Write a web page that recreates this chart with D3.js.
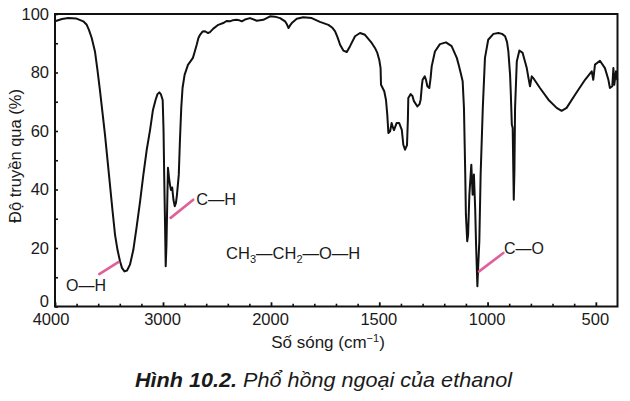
<!DOCTYPE html>
<html>
<head>
<meta charset="utf-8">
<script src="https://cdn.jsdelivr.net/npm/d3@7"></script>
<style>
  html, body { margin: 0; padding: 0; background: #fff; }
  svg { display: block; font-family: "Liberation Sans", Arial, sans-serif; }
</style>
</head>
<body>
<div id="chart"></div>
<script>
// số sóng (cm-1)
const wavenumber = [
  4000, 3935, 3877, 3806, 3738, 3706, 3685, 3660, 3630, 3607,
  3583, 3560, 3537, 3514, 3491, 3468, 3444, 3421, 3398, 3380,
  3357, 3333, 3306, 3275, 3244, 3213, 3182, 3151, 3120, 3093,
  3069, 3051, 3034, 3019, 3003, 2995, 2989, 2981, 2975, 2968,
  2961, 2954, 2944, 2935, 2926, 2915, 2903, 2891, 2880, 2871,
  2854, 2843, 2831, 2819, 2800, 2769, 2744, 2723, 2707, 2688,
  2672, 2657, 2634, 2611, 2583, 2565, 2534, 2488, 2442, 2412,
  2380, 2352, 2318, 2296, 2271, 2241, 2194, 2132, 2071, 2009,
  1982, 1958, 1935, 1926, 1919, 1912, 1904, 1881, 1851, 1812,
  1774, 1735, 1718, 1704, 1693, 1681, 1666, 1650, 1635, 1612,
  1589, 1566, 1535, 1520, 1509, 1500, 1494, 1492, 1477, 1469,
  1463, 1458, 1450, 1443, 1437, 1432, 1420, 1408, 1396, 1389,
  1381, 1372, 1368, 1366, 1355, 1347, 1340, 1324, 1314, 1309,
  1303, 1300, 1290, 1284, 1278, 1269, 1263, 1258, 1243, 1220,
  1192, 1166, 1142, 1132, 1124, 1115, 1109, 1103, 1100, 1094,
  1090, 1084, 1075, 1069, 1063, 1057, 1053, 1047, 1043, 1038,
  1032, 1022, 1012, 997, 973, 950, 933, 919, 910, 904,
  896, 893, 888, 884, 881, 879, 876, 873, 865, 853,
  838, 819, 811, 804, 796, 789, 758, 719, 681, 658,
  635, 596, 550, 519, 512, 504, 481, 458, 442, 435,
  424, 419, 415, 407, 401
];

// độ truyền qua (%)
const transmittance = [
  97.5, 98.3, 98.6, 98.5, 97.5, 96.3, 94.5, 91.8, 87.2, 80.9,
  73.6, 66.2, 58.7, 50.1, 41.6, 33, 24.5, 19.3, 15.5, 13.2,
  12, 12.3, 14.3, 19.3, 27.2, 35.7, 45, 53.5, 60.3, 67.2,
  70.6, 72.6, 73.2, 72.5, 70.6, 60.3, 45, 27.9, 13.8, 21,
  34.7, 47.4, 43.9, 41.5, 39.8, 40.7, 36.4, 34.3, 35.4, 38.1,
  45, 57, 67.9, 74.7, 79.2, 82.6, 83.9, 85, 87, 89.5,
  91.8, 92.9, 94, 94.1, 93.5, 93.8, 95, 96.3, 96.9, 97.6,
  97.5, 97.9, 98, 97.9, 97.5, 98.1, 98.6, 97.7, 98, 99.2,
  99.1, 98.6, 97.5, 96.4, 95.2, 96.1, 96.9, 98.4, 98.9, 98.6,
  97.3, 96.3, 95.4, 94.1, 92.1, 89.5, 87.5, 87, 89, 92.4,
  93.5, 92.9, 90.1, 88.4, 86.7, 84.3, 81.5, 75.8, 73.6, 70.6,
  65.5, 59.3, 59.9, 62.7, 61.2, 60.3, 62.7, 62.7, 60.4, 55.3,
  53.6, 55.2, 63.8, 71.3, 72.6, 72, 70.2, 68.4, 69.2, 70.7,
  75.7, 77.5, 78.7, 77.4, 75.3, 74.7, 78.1, 82.1, 87.2, 89.7,
  90.3, 89, 85, 82.2, 79.8, 77, 67.9, 45.1, 31.4, 22.3,
  24.4, 38.2, 48.5, 38.2, 45.1, 33, 21, 6.9, 14.2, 22.3,
  45.1, 67.9, 85, 91.2, 93.2, 93.5, 93.2, 92.4, 90.4, 87.2,
  79.2, 73.6, 62.2, 61, 46.2, 36.5, 46.3, 67.9, 83.8, 87.5,
  86.7, 81.5, 78.1, 75.3, 78.7, 78.1, 74.7, 70.7, 67.9, 66.9,
  67.9, 72.4, 77.5, 80.4, 77.5, 82.7, 84, 81.5, 77.5, 74.7,
  75.3, 81.5, 75.8, 80.4, 77.4
];

const xTickLabels = [4000, 3000, 2000, 1500, 1000, 500];
const yTickLabels = [0, 20, 40, 60, 80, 100];

// nhãn liên kết
const bondNames = ["O—H", "C—H", "C—O"];
const bondWavenumber = [3898, 2693, 924];
const bondPercent = [5.4, 34.8, 17.9];
// đoạn chỉ màu hồng: [wn1, T1, wn2, T2]
const pointers = [
  [3590, 11.1, 3414, 15.2],
  [2929, 30.3, 2720, 36.5],
  [1039, 12, 927, 18.3]
];

let width = 630;
let height = 401;
let margin = { top: 14, right: 12.5, bottom: 94.5, left: 55 };
let plotW = width - margin.left - margin.right;
let plotH = height - margin.top - margin.bottom;

let color = {
  text: '#1a1a1a',
  line: '#111',
  pink: '#e0609c'
};

const data = wavenumber.map((w, i) => ({ w: w, t: transmittance[i] }));

// thang số sóng đổi tỉ lệ ở 2000 cm-1
let x = d3.scaleLinear()
  .domain([4000, 2000, 400])
  .range([margin.left, margin.left + 216, width - margin.right]);

let y = d3.scaleLinear()
  .domain([0, 100])
  .range([height - margin.bottom, margin.top]);

const svg = d3.select("#chart").append("svg")
  .attr("width", width)
  .attr("height", height);

svg.append("rect")
  .attr("width", width).attr("height", height)
  .attr("fill", "#fff");

// trục x: vạch phụ
const xMinor = d3.range(3800, 2000, -200).concat(d3.range(1900, 400, -100))
  .filter(v => !xTickLabels.includes(v));

svg.append("g")
  .attr("transform", `translate(0,${y(0)})`)
  .call(d3.axisBottom(x).tickValues(xMinor).tickSize(-2.8).tickFormat(""))
  .call(g => g.select(".domain").remove())
  .call(g => g.selectAll("line").attr("stroke", color.line).attr("stroke-width", 1.6));

const gx = svg.append("g")
  .attr("transform", `translate(0,${y(0)})`)
  .call(d3.axisBottom(x).tickValues(xTickLabels).tickSize(-4.2).tickPadding(7)
    .tickFormat(d3.format("d")))
  .attr("font-size", 16.5)
  .attr("font-family", null)
  .call(g => g.select(".domain").remove())
  .call(g => g.selectAll("line").attr("stroke", color.line).attr("stroke-width", 1.8));

gx.selectAll("text")
  .attr("fill", color.text)
  .attr("x", d => d === 4000 ? -4.5 : -1);

// trục y
const gy = svg.append("g")
  .attr("transform", `translate(${margin.left},0)`)
  .call(d3.axisLeft(y).tickValues(d3.range(0, 101, 10)).tickSize(-3).tickPadding(6)
    .tickFormat(d => yTickLabels.includes(d) ? d : ""))
  .attr("font-size", 16.5)
  .attr("font-family", null)
  .call(g => g.select(".domain").remove())
  .call(g => g.selectAll("line").attr("stroke", color.line).attr("stroke-width", 1.6))
  .call(g => g.selectAll("text").attr("fill", color.text));

gy.selectAll("text")
  .attr("y", d => d === 0 ? -5.5 : 0);

// đường phổ
let line = d3.line()
  .x(d => x(d.w))
  .y(d => y(d.t));

svg.append("path")
  .datum(data)
  .attr("d", line)
  .attr("fill", "none")
  .attr("stroke", color.line)
  .attr("stroke-width", 2)
  .attr("stroke-linejoin", "round");

// khung
svg.append("rect")
  .attr("x", margin.left)
  .attr("y", margin.top)
  .attr("width", plotW)
  .attr("height", plotH)
  .attr("fill", "none")
  .attr("stroke", color.line)
  .attr("stroke-width", 2);

// đoạn chỉ màu hồng
svg.append("g")
  .selectAll("line")
  .data(pointers)
  .enter().append("line")
  .attr("x1", d => x(d[0]))
  .attr("y1", d => y(d[1]))
  .attr("x2", d => x(d[2]))
  .attr("y2", d => y(d[3]))
  .attr("stroke", color.pink)
  .attr("stroke-width", 2.6)
  .attr("stroke-linecap", "round");

// nhãn liên kết
svg.append("g")
  .selectAll("text")
  .data(bondNames)
  .enter().append("text")
  .attr("x", (d, i) => x(bondWavenumber[i]))
  .attr("y", (d, i) => y(bondPercent[i]))
  .attr("font-size", 16.5)
  .attr("fill", color.text)
  .attr("textLength", 40)
  .attr("lengthAdjust", "spacingAndGlyphs")
  .text(d => d);

// công thức CH3–CH2–O–H
const formula = svg.append("text")
  .attr("x", x(2416))
  .attr("y", y(16.1))
  .attr("font-size", 16.5)
  .attr("fill", color.text);
formula.append("tspan").text("CH");
formula.append("tspan").attr("font-size", 11).attr("dy", 4).text("3");
formula.append("tspan").attr("dy", -4).text("—CH");
formula.append("tspan").attr("font-size", 11).attr("dy", 4).text("2");
formula.append("tspan").attr("dy", -4).text("—O—H");

// tiêu đề trục
svg.append("text")
  .attr("transform", "translate(20.7,156) rotate(-90)")
  .attr("text-anchor", "middle")
  .attr("font-size", 16.5)
  .attr("fill", color.text)
  .text("Độ truyền qua (%)");

const xt = svg.append("text")
  .attr("x", 328)
  .attr("y", 348)
  .attr("text-anchor", "middle")
  .attr("font-size", 17)
  .attr("fill", color.text);
xt.append("tspan").text("Số sóng (cm");
xt.append("tspan").attr("font-size", 11).attr("dy", -6).text("−1");
xt.append("tspan").attr("dy", 6).text(")");

// chú thích hình
const cap = svg.append("text")
  .attr("x", 135)
  .attr("y", 386.5)
  .attr("font-size", 21)
  .attr("font-style", "italic")
  .attr("fill", color.text)
  .attr("textLength", 377)
  .attr("lengthAdjust", "spacingAndGlyphs");
cap.append("tspan").attr("font-weight", "bold").text("Hình 10.2.");
cap.append("tspan").text(" Phổ hồng ngoại của ethanol");
</script>
</body>
</html>
